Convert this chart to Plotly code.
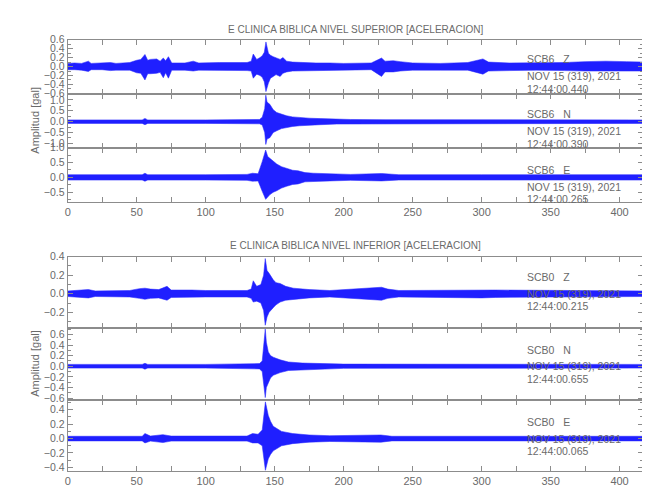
import plotly.graph_objects as go

# ---------------- data (envelopes) ----------------
# SCB6 Z  (upper level, vertical)
t_z6 = [0, 5, 10, 15, 17, 25, 31, 35, 45, 50, 53, 56, 58, 60, 64.5, 67, 69.3, 71, 73, 75.4, 85, 91, 95, 110,
        120, 125, 130, 133, 134.5, 137, 139.4, 141, 142.5, 143.7, 145.5, 147, 149, 151, 154, 156, 158.7, 163,
        170, 180, 190, 200, 220, 227.5, 230, 236, 241, 250, 270, 290, 301, 305, 320, 340, 360, 375, 390,
        405, 417]
up_z6 = [0.07, 0.08, 0.07, 0.12, 0.07, 0.08, 0.09, 0.07, 0.09, 0.14, 0.16, 0.27, 0.14, 0.16, 0.17, 0.12,
         0.19, 0.13, 0.22, 0.08, 0.08, 0.12, 0.08, 0.09, 0.08, 0.09, 0.09, 0.12, 0.28, 0.16, 0.20, 0.24, 0.32,
         0.55, 0.30, 0.25, 0.22, 0.19, 0.16, 0.20, 0.12, 0.10, 0.09, 0.08, 0.08, 0.07, 0.08, 0.19, 0.12, 0.13,
         0.11, 0.08, 0.07, 0.09, 0.17, 0.10, 0.08, 0.08, 0.09, 0.11, 0.12, 0.11, 0.10]
lo_z6 = [-0.07, -0.07, -0.08, -0.11, -0.07, -0.07, -0.09, -0.08, -0.08, -0.14, -0.15, -0.30, -0.16, -0.16,
         -0.15, -0.13, -0.25, -0.14, -0.26, -0.08, -0.08, -0.10, -0.08, -0.09, -0.08, -0.09, -0.09, -0.10,
         -0.26, -0.17, -0.20, -0.24, -0.34, -0.56, -0.37, -0.26, -0.22, -0.18, -0.22, -0.15, -0.12, -0.10,
         -0.10, -0.08, -0.08, -0.08, -0.07, -0.22, -0.12, -0.12, -0.10, -0.08, -0.08, -0.08, -0.17, -0.10,
         -0.09, -0.08, -0.09, -0.10, -0.11, -0.10, -0.10]

# SCB6 N
t_n6 = [0, 30, 54, 56, 58, 100, 139, 141, 142.8, 143.6, 144.5, 146.5, 149, 151.5, 155, 158.7, 163, 168, 175,
        183, 195, 205, 230, 300, 417]
up_n6 = [0.08, 0.08, 0.08, 0.15, 0.08, 0.08, 0.10, 0.20, 0.60, 1.22, 0.90, 0.80, 0.55, 0.42, 0.33, 0.27,
         0.22, 0.19, 0.16, 0.14, 0.11, 0.10, 0.09, 0.08, 0.08]
lo_n6 = [-0.08, -0.08, -0.08, -0.14, -0.08, -0.08, -0.10, -0.15, -0.50, -1.05, -0.80, -0.74, -0.50, -0.42,
         -0.32, -0.27, -0.22, -0.19, -0.15, -0.14, -0.11, -0.10, -0.08, -0.08, -0.08]

# SCB6 E
t_e6 = [0, 30, 54, 56, 58, 100, 130, 134, 138, 141, 143.5, 145, 146.6, 149, 151.5, 155, 158.7, 163, 167,
        172, 178, 190, 205, 227.6, 240, 300, 417]
up_e6 = [0.09, 0.09, 0.09, 0.14, 0.09, 0.09, 0.10, 0.14, 0.12, 0.53, 0.92, 0.70, 0.64, 0.55, 0.45, 0.36,
         0.30, 0.24, 0.22, 0.16, 0.14, 0.12, 0.10, 0.13, 0.09, 0.09, 0.09]
lo_e6 = [-0.09, -0.09, -0.09, -0.13, -0.09, -0.09, -0.10, -0.13, -0.12, -0.47, -0.74, -0.65, -0.58, -0.50,
         -0.45, -0.36, -0.30, -0.24, -0.22, -0.15, -0.14, -0.12, -0.10, -0.12, -0.09, -0.09, -0.09]

# SCB0 Z (lower level)
t_z0 = [0, 15, 20, 45, 52, 56, 60, 66, 72, 75, 90, 100, 130, 133, 134.5, 137, 140, 142, 143.2, 144.5, 146,
        149, 151, 154, 158, 163.5, 175, 190, 227.5, 232, 240, 300, 310, 417]
up_z0 = [0.03, 0.045, 0.03, 0.035, 0.055, 0.06, 0.05, 0.045, 0.08, 0.04, 0.04, 0.035, 0.035, 0.05, 0.14,
         0.08, 0.10, 0.20, 0.38, 0.25, 0.22, 0.15, 0.12, 0.11, 0.08, 0.06, 0.045, 0.035, 0.07, 0.05, 0.035,
         0.045, 0.04, 0.03]
lo_z0 = [-0.03, -0.045, -0.03, -0.035, -0.05, -0.06, -0.05, -0.045, -0.07, -0.04, -0.04, -0.035, -0.035,
         -0.05, -0.09, -0.08, -0.10, -0.18, -0.34, -0.25, -0.20, -0.15, -0.12, -0.09, -0.07, -0.06, -0.045,
         -0.035, -0.07, -0.05, -0.035, -0.045, -0.04, -0.03]

# SCB0 N
t_n0 = [0, 54, 56, 58, 100, 139, 141, 143.2, 144, 145.4, 147, 149, 154, 160, 170, 185, 200, 417]
up_n0 = [0.035, 0.035, 0.055, 0.035, 0.035, 0.05, 0.10, 0.70, 0.45, 0.27, 0.20, 0.17, 0.12, 0.08, 0.06,
         0.05, 0.04, 0.035]
lo_n0 = [-0.035, -0.035, -0.055, -0.035, -0.035, -0.05, -0.10, -0.59, -0.40, -0.30, -0.22, -0.17, -0.12,
         -0.08, -0.06, -0.05, -0.04, -0.035]

# SCB0 E
t_e0 = [0, 54, 56, 60, 69, 75, 130, 134, 138, 141, 143.3, 144.5, 145.4, 147, 149, 155, 163, 175, 190, 227,
        235, 417]
up_e0 = [0.032, 0.032, 0.07, 0.035, 0.055, 0.035, 0.035, 0.07, 0.06, 0.12, 0.51, 0.38, 0.32, 0.24, 0.17,
         0.10, 0.07, 0.05, 0.04, 0.05, 0.032, 0.032]
lo_e0 = [-0.032, -0.032, -0.06, -0.035, -0.055, -0.035, -0.035, -0.06, -0.06, -0.10, -0.44, -0.36, -0.28,
         -0.22, -0.17, -0.10, -0.07, -0.05, -0.04, -0.05, -0.032, -0.032]

stations = ["SCB6", "SCB6", "SCB6", "SCB0", "SCB0", "SCB0"]
components = ["Z", "N", "E", "Z", "N", "E"]
dates = ["NOV 15 (319), 2021"] * 6
start_times = ["12:44:00.440", "12:44:00.390", "12:44:00.265",
               "12:44:00.215", "12:44:00.655", "12:44:00.065"]
y_ranges = [[-0.62, 0.60], [-1.20, 1.26], [-0.82, 1.00],
            [-0.37, 0.40], [-0.63, 0.72], [-0.45, 0.54]]
y_ticks = [[-0.6, -0.4, -0.2, 0.0, 0.2, 0.4, 0.6],
           [-1.0, -0.5, 0.0, 0.5, 1.0],
           [-0.5, 0.0, 0.5, 1.0],
           [-0.2, 0.0, 0.2, 0.4],
           [-0.6, -0.4, -0.2, 0.0, 0.2, 0.4, 0.6],
           [-0.4, -0.2, 0.0, 0.2, 0.4]]
y_minor = [0.1, 0.25, 0.25, 0.1, 0.1, 0.1]
x_ticks = [0, 25, 50, 75, 100, 125, 150, 175, 200, 225, 250, 275, 300, 325, 350, 375, 400]
x_labels = ["0", "", "50", "", "100", "", "150", "", "200", "", "250", "", "300", "", "350", "", "400"]
x_range = [0, 417]
titles = ["E CLINICA BIBLICA NIVEL SUPERIOR [ACELERACION]",
          "E CLINICA BIBLICA NIVEL INFERIOR [ACELERACION]"]
y_title = "Amplitud [gal]"

series = [(t_z6, up_z6, lo_z6), (t_n6, up_n6, lo_n6), (t_e6, up_e6, lo_e6),
          (t_z0, up_z0, lo_z0), (t_n0, up_n0, lo_n0), (t_e0, up_e0, lo_e0)]

# ---------------- layout geometry (screen pixels; page has an 8px body margin) ----------------
OFF = 8
W, H = 642, 492
PX0, PX1 = 67.7, 643.0
panel_px = [(39.7, 94.3), (94.3, 147.7), (147.7, 201.7),
            (256.7, 328.0), (328.0, 399.7), (399.7, 471.0)]
FONT = "Liberation Sans, Arial, sans-serif"
FS = 10.5
TXT = "#6a6a6a"
AX = "#8c8c8c"
BLUE = "#0000ff"


def fx(p):
    return (p - OFF) / W


def fy(p):
    return 1 - (p - OFF) / H


fig = go.Figure()
layout = dict(width=W, height=H, margin=dict(l=0, r=0, t=0, b=0, pad=0), autosize=False,
              paper_bgcolor="white", plot_bgcolor="white", showlegend=False,
              font=dict(family=FONT, size=FS, color=TXT))
annotations = []

for i, ((t, up, lo), (top, bot)) in enumerate(zip(series, panel_px)):
    k = "" if i == 0 else str(i + 1)
    fig.add_trace(go.Scatter(
        x=list(t) + list(t)[::-1], y=list(up) + list(lo)[::-1],
        fill="toself", fillcolor="rgba(0,0,255,0.88)",
        line=dict(color="rgba(40,40,255,0.55)", width=1), mode="lines",
        xaxis="x" + k, yaxis="y" + k, hoverinfo="skip"))
    bottom_panel = i in (2, 5)
    layout["xaxis" + k] = dict(
        domain=[fx(PX0), fx(PX1)], anchor="y" + k, range=x_range,
        tickmode="array", tickvals=x_ticks, ticktext=x_labels,
        showticklabels=bottom_panel, ticks="inside", ticklen=5, tickcolor=AX,
        showline=True, linecolor=AX, linewidth=1, mirror="ticks",
        showgrid=False, zeroline=False, automargin=False,
        tickfont=dict(family=FONT, size=11, color=TXT))
    layout["yaxis" + k] = dict(
        domain=[fy(bot), fy(top)], anchor="x" + k, range=y_ranges[i],
        tickmode="array", tickvals=y_ticks[i], tickformat=".1f",
        ticks="inside", ticklen=5, tickcolor=AX,
        minor=dict(dtick=y_minor[i], ticks="inside", ticklen=3, tickcolor=AX),
        showline=True, linecolor=AX, linewidth=1, mirror="ticks",
        showgrid=False, zeroline=False, automargin=False,
        tickfont=dict(family=FONT, size=FS, color=TXT))
    # station labels
    base = top + (bot - top) * (y_ranges[i][1] / (y_ranges[i][1] - y_ranges[i][0]))
    offs = (-7.5, 9.5, 22.0) if i < 3 else (-16.5, 0.0, 12.5)
    lines = [stations[i] + "\u00a0\u00a0\u00a0" + components[i], dates[i], start_times[i]]
    for txt, o in zip(lines, offs):
        annotations.append(dict(x=fx(525), y=fy(base + o), xref="paper", yref="paper",
                                text=txt, showarrow=False, xanchor="left", yanchor="middle",
                                font=dict(family=FONT, size=FS, color=TXT)))

# group titles and y-axis titles
for ttl, ty in zip(titles, (30, 245)):
    annotations.append(dict(x=fx((PX0 + PX1) / 2), y=fy(ty), xref="paper", yref="paper",
                            text=ttl, showarrow=False, xanchor="center", yanchor="middle",
                            font=dict(family=FONT, size=10, color=TXT)))
for cy in ((39.7 + 201.7) / 2, (256.7 + 471.0) / 2):
    annotations.append(dict(x=fx(35), y=fy(cy), xref="paper", yref="paper",
                            text=y_title, showarrow=False, textangle=-90,
                            xanchor="center", yanchor="middle",
                            font=dict(family=FONT, size=11, color=TXT)))

layout["annotations"] = annotations
fig.update_layout(**layout)
fig.write_html("out.html")
